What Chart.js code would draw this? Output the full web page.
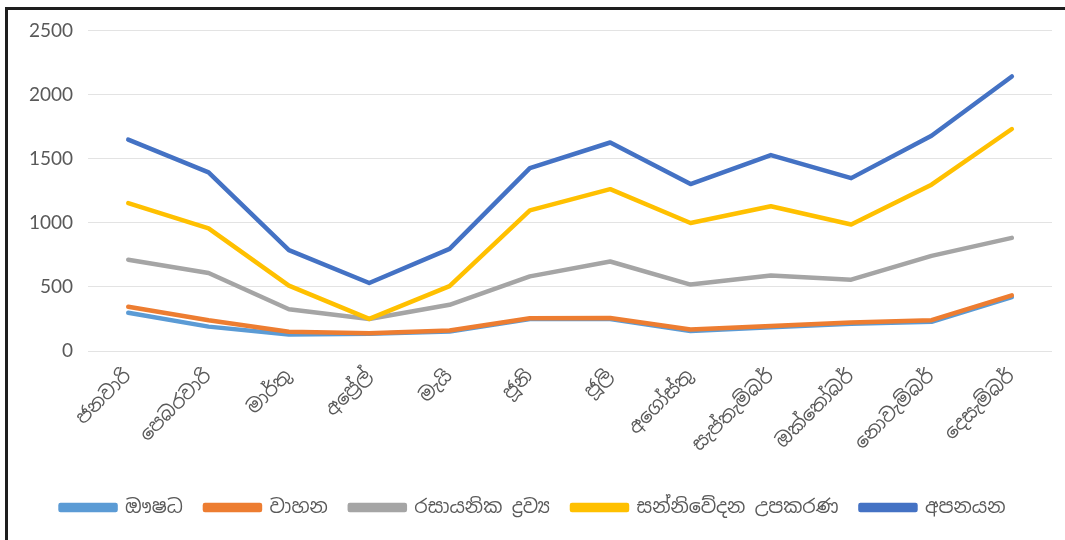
<!DOCTYPE html>
<html>
<head>
<meta charset="utf-8">
<script src="https://cdn.jsdelivr.net/npm/chart.js@4.4.1/dist/chart.umd.min.js"></script>
<style>
  html, body { margin: 0; padding: 0; background: #fff; }
  #frame {
    position: absolute; left: 5px; top: 7px;
    width: 1060px; height: 533px;
    border-top: 3px solid #1e1e1e; border-left: 3px solid #1e1e1e;
    box-sizing: border-box;
  }
  #chart { position: absolute; left: 8px; top: 4px; display: block; }
</style>
</head>
<body>
<div id="frame"></div>
<canvas id="chart" width="1057" height="536"></canvas>
<script>
var months = ['ජනවාරි', 'පෙබරවාරි', 'මාර්තු', 'අප්‍රේල්', 'මැයි', 'ජූනි', 'ජූලි', 'අගෝස්තු', 'සැප්තැම්බර්', 'ඔක්තෝබර්', 'නොවැම්බර්', 'දෙසැම්බර්'];
var names = ['ඖෂධ', 'වාහන', 'රසායනික ද්‍රව්‍ය', 'සන්නිවේදන උපකරණ', 'අපනයන'];
var colors = ['#5B9BD5', '#ED7D31', '#A5A5A5', '#FFC000', '#4472C4'];

var medicine  = [298, 190, 128, 135, 152, 250, 250, 155, 185, 212, 228, 420];
var vehicles  = [345, 240, 150, 138, 160, 255, 258, 168, 195, 222, 240, 434];
var chemicals = [712, 608, 325, 250, 360, 582, 698, 518, 588, 556, 742, 882];
var telecom   = [1153, 956, 510, 250, 506, 1096, 1262, 998, 1129, 986, 1297, 1731];
var exports   = [1648, 1393, 786, 530, 796, 1426, 1626, 1302, 1528, 1348, 1678, 2141];

var yTicks = [0, 500, 1000, 1500, 2000, 2500];

var series = [medicine, vehicles, chemicals, telecom, exports];
var datasets = series.map(function(vals, i) {
    return {
        label: names[i],
        data: vals,
        borderColor: colors[i],
        backgroundColor: colors[i],
        borderWidth: 4.5,
        pointRadius: 0,
        tension: 0,
        borderCapStyle: 'round',
        borderJoinStyle: 'round',
        order: series.length - i
    };
});

var sinhala = "'Noto Sans Sinhala', 'Iskoola Pota', 'Noto Sans', sans-serif";

new Chart(document.getElementById('chart'), {
    type: 'line',
    data: { labels: months, datasets: datasets },
    options: {
        responsive: false,
        animation: false,
        layout: { padding: { left: 6, right: 13, top: 0, bottom: 13 } },
        plugins: {
            tooltip: { enabled: false },
            legend: {
                position: 'bottom',
                labels: {
                    sort: function(a, b) { return a.datasetIndex - b.datasetIndex; },
                    boxWidth: 55,
                    boxHeight: 5,
                    padding: 22,
                    color: '#595959',
                    font: { family: sinhala, size: 19 }
                }
            }
        },
        scales: {
            x: {
                offset: true,
                grid: { display: false },
                border: { display: false },
                afterFit: function(axis) { axis.height = 125; },
                ticks: {
                    color: '#595959',
                    font: { family: sinhala, size: 19 },
                    minRotation: 45,
                    maxRotation: 45,
                    padding: 6
                }
            },
            y: {
                min: yTicks[0],
                max: yTicks[yTicks.length - 1],
                afterBuildTicks: function(axis) {
                    axis.ticks = yTicks.map(function(v) { return { value: v }; });
                },
                grid: { color: '#e3e3e3', lineWidth: 1, drawTicks: false },
                border: { display: false },
                ticks: {
                    color: '#595959',
                    font: { family: 'Lato', size: 19 },
                    padding: 15,
                    callback: function(v) { return String(v); }
                }
            }
        }
    }
});
</script>
</body>
</html>
